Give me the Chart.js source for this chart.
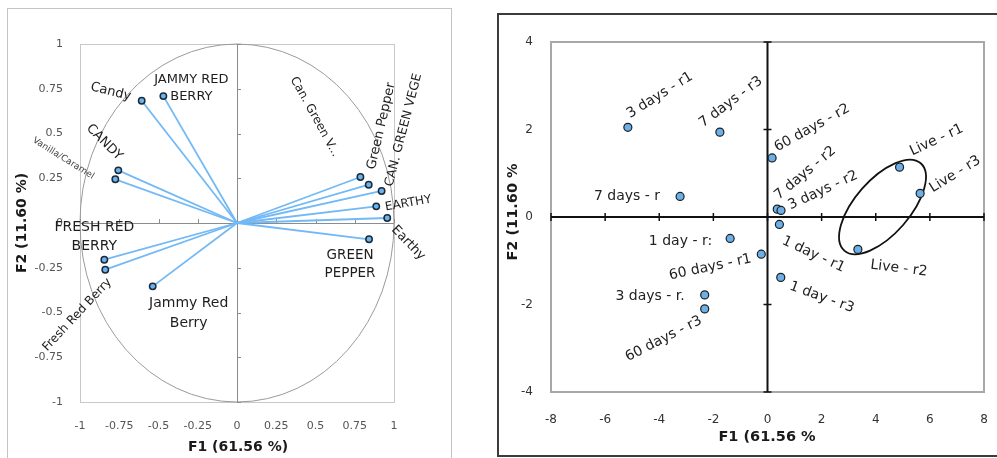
<!DOCTYPE html>
<html><head><meta charset="utf-8">
<script src="https://cdn.jsdelivr.net/npm/chart.js@4/dist/chart.umd.min.js"></script>
<style>
html,body{margin:0;padding:0;background:#fff;width:997px;height:458px;overflow:hidden;position:relative;font-family:"DejaVu Sans",sans-serif;}
#lp{position:absolute;left:7px;top:8px;width:445px;height:470px;border:1.5px solid #c4c4c4;box-sizing:border-box;}
#rp{position:absolute;left:497px;top:13px;width:520px;height:444px;border:2px solid #3c3c3c;box-sizing:border-box;}
#c1{position:absolute;left:0;top:0;}
#c2{position:absolute;left:497px;top:0;}
</style></head>
<body>
<div id="lp"></div><div id="rp"></div>
<canvas id="c1" width="460" height="458"></canvas>
<canvas id="c2" width="500" height="458"></canvas>
<script>
// ---- Data: variables (correlation circle) ----
const varLabels = ['Candy','JAMMY RED\nBERRY','CANDY','Vanilla/Caramel','FRESH RED\nBERRY','Fresh Red Berry','Jammy Red\nBerry','Green Pepper','Can. Green V...','CAN. GREEN VEGE','EARTHY','Earthy','GREEN\nPEPPER'];
const varF1 = [-0.607,-0.469,-0.756,-0.775,-0.845,-0.839,-0.537,0.786,0.839,0.921,0.887,0.957,0.841];
const varF2 = [0.683,0.709,0.294,0.244,-0.205,-0.261,-0.354,0.257,0.214,0.179,0.093,0.028,-0.091];
const leftTicks = [-1,-0.75,-0.5,-0.25,0,0.25,0.5,0.75,1];

// ---- Data: observations (scores) ----
const obsLabels = ['3 days - r1','7 days - r3','60 days - r2','7 days - r','7 days - r2','3 days - r2','1 day - r1','Live - r1','Live - r3','Live - r2','1 day - r3','60 days - r1','1 day - r:','3 days - r.','60 days - r3'];
const obsF1 = [-5.16,-1.76,0.17,-3.23,0.36,0.50,0.44,4.88,5.64,3.34,0.49,-0.23,-1.38,-2.32,-2.32];
const obsF2 = [2.05,1.94,1.35,0.47,0.18,0.15,-0.17,1.14,0.54,-0.74,-1.38,-0.85,-0.49,-1.78,-2.10];
const rightXTicks = [-8,-6,-4,-2,0,2,4,6,8];
const rightYTicks = [-4,-2,0,2,4];

const axisTitleX = 'F1 (61.56 %)';
const axisTitleY = 'F2 (11.60 %)';
const axisTitleX2 = 'F1 (61.56 %';
const axisTitleY2 = 'F2 (11.60 %';

// ---- Label placement (presentation only) ----
const varLabelStyle = [
 {dx:-31,dy:-9,angle:14,size:13},
 {dx:28,dy:-16,angle:0,size:13,lh:17},
 {dx:-14,dy:-28,angle:45,size:13},
 {dx:-52,dy:-21,angle:32,size:9,color:'#444'},
 {dx:-10,dy:-32,angle:0,size:14,lh:18.7},
 {dx:-28,dy:45,angle:-47,size:12},
 {dx:36,dy:17,angle:0,size:14,lh:20},
 {dx:21,dy:-51,angle:-77,size:13},
 {dx:-54,dy:-68,angle:61,size:12},
 {dx:22,dy:-61,angle:-75.5,size:12.5},
 {dx:32,dy:-3,angle:-10,size:12},
 {dx:21,dy:25,angle:46,size:13},
 {dx:-19,dy:16,angle:0,size:13.5,lh:18.3}
];
const obsLabelStyle = [
 {dx:32,dy:-32,angle:-32},
 {dx:11,dy:-30,angle:-37},
 {dx:40,dy:-30,angle:-29},
 {dx:-20,dy:0,angle:0,align:'right'},
 {dx:28,dy:-36,angle:-40},
 {dx:42,dy:-20,angle:-25},
 {dx:34,dy:30,angle:25},
 {dx:37,dy:-27,angle:-25},
 {dx:35,dy:-19,angle:-32},
 {dx:41,dy:19,angle:7},
 {dx:41,dy:20,angle:20},
 {dx:-51,dy:13,angle:-12},
 {dx:-18,dy:3,angle:0,align:'right'},
 {dx:-20,dy:1,angle:0,align:'right'},
 {dx:-41,dy:30,angle:-27}
];

const FONT = '"DejaVu Sans", Verdana, sans-serif';

function drawLabel(ctx, x, y, text, st, defSize, defColor){
  ctx.save();
  ctx.translate(x + st.dx, y + st.dy);
  ctx.rotate((st.angle||0) * Math.PI/180);
  ctx.font = (st.size||defSize) + 'px ' + FONT;
  ctx.fillStyle = st.color || defColor;
  ctx.textAlign = st.align || 'center';
  ctx.textBaseline = 'middle';
  text.split('\n').forEach((l,i)=>ctx.fillText(l, 0, i*(st.lh||0)));
  ctx.restore();
}

// ---------- Left chart ----------
const leftDatasets = varLabels.map((lab,i)=>({
  label: lab,
  data: [{x:0,y:0},{x:varF1[i],y:varF2[i]}],
  showLine: true,
  borderColor: '#72b9f5',
  borderWidth: 1.8,
  pointRadius: [0,3.2],
  pointBackgroundColor: '#6cb4f0',
  pointBorderColor: '#1b2a38',
  pointBorderWidth: 1.5
}));

const leftPlugin = {
  id:'leftDeco',
  beforeDatasetsDraw(chart){
    const {ctx, chartArea:a, scales:{x,y}} = chart;
    ctx.save();
    ctx.strokeStyle = '#c8c8c8'; ctx.lineWidth = 1;
    ctx.strokeRect(a.left+0.5, a.top+0.5, a.right-a.left, a.bottom-a.top);
    const cx = x.getPixelForValue(0), cy = y.getPixelForValue(0);
    const rx = x.getPixelForValue(1)-cx, ry = cy - y.getPixelForValue(1);
    ctx.strokeStyle = '#9a9a9a'; ctx.lineWidth = 1;
    ctx.beginPath(); ctx.ellipse(cx, cy, rx, ry, 0, 0, Math.PI*2); ctx.stroke();
    ctx.strokeStyle = '#8c8c8c';
    ctx.beginPath();
    ctx.moveTo(a.left, Math.round(cy)+0.5); ctx.lineTo(a.right, Math.round(cy)+0.5);
    ctx.moveTo(Math.round(cx)+0.5, a.top); ctx.lineTo(Math.round(cx)+0.5, a.bottom);
    leftTicks.forEach(v=>{
      const px = Math.round(x.getPixelForValue(v))+0.5;
      ctx.moveTo(px, cy); ctx.lineTo(px, cy-4);
      const py = Math.round(y.getPixelForValue(v))+0.5;
      ctx.moveTo(cx, py); ctx.lineTo(cx+4, py);
    });
    ctx.stroke();
    ctx.restore();
  },
  afterDatasetsDraw(chart){
    const ctx = chart.ctx;
    chart.data.datasets.forEach((ds,i)=>{
      const pt = chart.getDatasetMeta(i).data[1];
      drawLabel(ctx, pt.x, pt.y, varLabels[i], varLabelStyle[i], 13, '#1e1e1e');
    });
    ctx.save();
    ctx.fillStyle = '#1a1a1a';
    ctx.font = 'bold 14px ' + FONT;
    ctx.textAlign = 'center'; ctx.textBaseline = 'middle';
    ctx.fillText(axisTitleX, 238, 447);
    ctx.translate(22, 223); ctx.rotate(-Math.PI/2);
    ctx.fillText(axisTitleY, 0, 0);
    ctx.restore();
  }
};

new Chart(document.getElementById('c1'), {
  type:'scatter',
  data:{datasets:leftDatasets},
  options:{
    responsive:false, animation:false, devicePixelRatio:1,
    layout:{padding:{left:0,right:66,top:44,bottom:0}},
    plugins:{legend:{display:false}, tooltip:{enabled:false}},
    scales:{
      x:{min:-1,max:1,
         afterBuildTicks:s=>{s.ticks = leftTicks.map(v=>({value:v}));},
         afterFit:s=>{s.height=56; s.paddingLeft=0; s.paddingRight=0;},
         grid:{display:false}, border:{display:false},
         ticks:{padding:10, color:'#555', font:{family:FONT,size:11}, callback:v=>String(v)}},
      y:{min:-1,max:1,
         afterBuildTicks:s=>{s.ticks = leftTicks.map(v=>({value:v}));},
         afterFit:s=>{s.width=80; s.paddingTop=0; s.paddingBottom=0;},
         grid:{display:false}, border:{display:false},
         ticks:{padding:9, color:'#555', font:{family:FONT,size:11}, callback:v=>String(v)}}
    }
  },
  plugins:[leftPlugin]
});

// ---------- Right chart ----------
const rightPlugin = {
  id:'rightDeco',
  beforeDatasetsDraw(chart){
    const {ctx, chartArea:a, scales:{x,y}} = chart;
    ctx.save();
    ctx.strokeStyle = '#a8a8a8'; ctx.lineWidth = 2;
    ctx.strokeRect(a.left, a.top, a.right-a.left, a.bottom-a.top);
    const cx = x.getPixelForValue(0), cy = y.getPixelForValue(0);
    ctx.strokeStyle = '#111'; ctx.lineWidth = 2;
    ctx.beginPath();
    ctx.moveTo(a.left, cy); ctx.lineTo(a.right, cy);
    ctx.moveTo(cx, a.top); ctx.lineTo(cx, a.bottom);
    ctx.stroke();
    ctx.lineWidth = 1.5;
    ctx.beginPath();
    rightXTicks.forEach(v=>{ const px = x.getPixelForValue(v); ctx.moveTo(px, cy-4); ctx.lineTo(px, cy+4); });
    rightYTicks.forEach(v=>{ const py = y.getPixelForValue(v); ctx.moveTo(cx-4, py); ctx.lineTo(cx+4, py); });
    ctx.stroke();
    const ex = x.getPixelForValue(4.25), ey = y.getPixelForValue(0.23);
    ctx.strokeStyle = '#111'; ctx.lineWidth = 1.8;
    ctx.beginPath(); ctx.ellipse(ex, ey, 58, 27.4, -48.8*Math.PI/180, 0, Math.PI*2); ctx.stroke();
    ctx.restore();
  },
  afterDatasetsDraw(chart){
    const ctx = chart.ctx;
    const meta = chart.getDatasetMeta(0);
    meta.data.forEach((pt,i)=>{
      drawLabel(ctx, pt.x, pt.y, obsLabels[i], obsLabelStyle[i], 14, '#222');
    });
    ctx.save();
    ctx.fillStyle = '#1a1a1a';
    ctx.font = 'bold 14.5px ' + FONT;
    ctx.textAlign = 'center'; ctx.textBaseline = 'middle';
    ctx.fillText(axisTitleX2, 270, 437);
    ctx.translate(16, 212); ctx.rotate(-Math.PI/2);
    ctx.fillText(axisTitleY2, 0, 0);
    ctx.restore();
  }
};

new Chart(document.getElementById('c2'), {
  type:'scatter',
  data:{datasets:[{
    label:'Observations',
    data: obsF1.map((v,i)=>({x:v, y:obsF2[i]})),
    pointRadius:4,
    pointBackgroundColor:'#6cb0ea',
    pointBorderColor:'#1e1e1e',
    pointBorderWidth:1.2
  }]},
  options:{
    responsive:false, animation:false, devicePixelRatio:1,
    layout:{padding:{left:0,right:13,top:42,bottom:0}},
    plugins:{legend:{display:false}, tooltip:{enabled:false}},
    scales:{
      x:{min:-8,max:8,
         afterBuildTicks:s=>{s.ticks = rightXTicks.map(v=>({value:v}));},
         afterFit:s=>{s.height=66; s.paddingLeft=0; s.paddingRight=0;},
         grid:{display:false}, border:{display:false},
         ticks:{padding:13, color:'#333', font:{family:FONT,size:12}, callback:v=>String(v)}},
      y:{min:-4,max:4,
         afterBuildTicks:s=>{s.ticks = rightYTicks.map(v=>({value:v}));},
         afterFit:s=>{s.width=54; s.paddingTop=0; s.paddingBottom=0;},
         grid:{display:false}, border:{display:false},
         ticks:{padding:10, color:'#333', font:{family:FONT,size:12}, callback:v=>String(v)}}
    }
  },
  plugins:[rightPlugin]
});
</script>
</body></html>
